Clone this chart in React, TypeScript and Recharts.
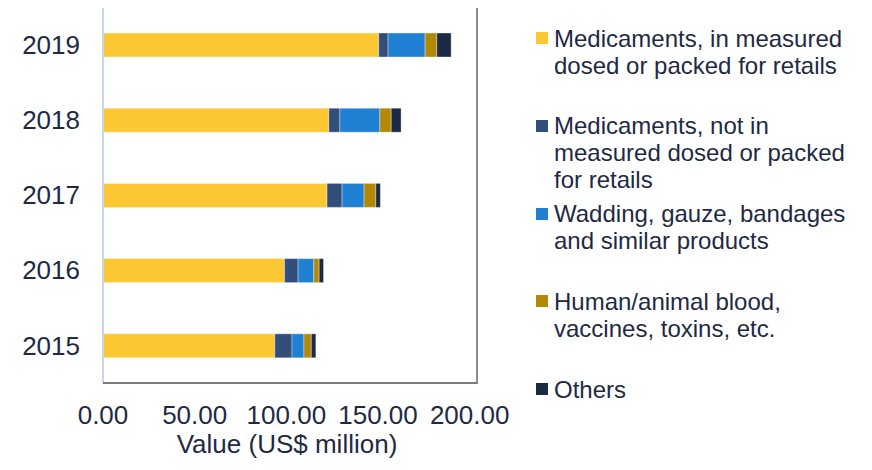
import React from "react";
import { BarChart, Bar, XAxis, YAxis } from "recharts";

const years = ["2019", "2018", "2017", "2016", "2015"];
const seriesNames = [
  "Medicaments, in measured dosed or packed for retails",
  "Medicaments, not in measured dosed or packed for retails",
  "Wadding, gauze, bandages and similar products",
  "Human/animal blood, vaccines, toxins, etc.",
  "Others",
];
const seriesColors = ["#FBC733", "#324E7B", "#2080D4", "#B38804", "#1C2B45"];
const medMeasured = [150.4, 123.2, 122.2, 99.0, 93.7];
const medNotMeasured = [5.1, 6.0, 8.2, 7.4, 9.4];
const wadding = [20.2, 21.8, 12.0, 8.6, 6.5];
const blood = [6.4, 6.2, 6.4, 2.9, 4.0];
const others = [7.8, 5.4, 2.5, 2.4, 2.5];
const xTicks = [0, 50, 100, 150, 200];

const seriesValues = [medMeasured, medNotMeasured, wadding, blood, others];
const keys = ["s0", "s1", "s2", "s3", "s4"];

const data = years.map((y, i) => {
  const row: Record<string, any> = { year: y };
  keys.forEach((k, j) => {
    row[k] = seriesValues[j][i];
  });
  return row;
});

const textColor = "#1E2A44";
const font = "'Liberation Sans', Arial, sans-serif";

export default function App() {
  return (
    <div style={{ position: "relative", width: 872, height: 470, margin: -8, fontFamily: font }}>
      <BarChart
        width={872}
        height={470}
        data={data}
        layout="vertical"
        margin={{ top: 7, right: 395, bottom: 0, left: 0 }}
      >
        <XAxis
          type="number"
          domain={[0, 204]}
          ticks={xTicks}
          tickFormatter={(v: number) => v.toFixed(2)}
          tickSize={0}
          tickMargin={23}
          axisLine={false}
          tick={{ fill: textColor, fontSize: 26, fontFamily: font }}
          height={87}
          label={{
            value: "Value (US$ million)",
            position: "insideBottom",
            offset: 17,
            dx: -3,
            fill: textColor,
            fontSize: 26,
            fontFamily: font,
          }}
        />
        <YAxis
          type="category"
          dataKey="year"
          width={103}
          tickSize={0}
          tickMargin={23}
          axisLine={{ stroke: "#C9D5E8", strokeWidth: 2 }}
          tick={{ fill: textColor, fontSize: 26, fontFamily: font }}
        />
        {keys.map((k, j) => (
          <Bar
            key={k}
            dataKey={k}
            name={seriesNames[j]}
            stackId="a"
            fill={seriesColors[j]}
            barSize={24}
            stroke="#ffffff"
            strokeOpacity={0.45}
            strokeWidth={0.8}
            isAnimationActive={false}
          />
        ))}
      </BarChart>
      <div
        style={{
          position: "absolute",
          left: 103,
          top: 6,
          width: 375,
          height: 378,
          boxSizing: "border-box",
          borderTop: "2px solid #7A7A7A",
          borderRight: "2px solid #8C8C8C",
          borderBottom: "2px solid #7A7A7A",
          pointerEvents: "none",
          zIndex: 5,
        }}
      />
      {seriesNames.map((name, i) => {
        const cy = 38 + 87.8 * i;
        return (
          <div key={name} style={{ position: "absolute", left: 536, top: cy - 13.5 }}>
            <div
              style={{
                position: "absolute",
                left: 0,
                top: 7.5,
                width: 12,
                height: 12,
                background: seriesColors[i],
              }}
            />
            <div
              style={{
                position: "absolute",
                left: 18,
                top: 0,
                width: 310,
                fontSize: 24,
                lineHeight: "27px",
                color: textColor,
                fontFamily: font,
              }}
            >
              {name}
            </div>
          </div>
        );
      })}
    </div>
  );
}
